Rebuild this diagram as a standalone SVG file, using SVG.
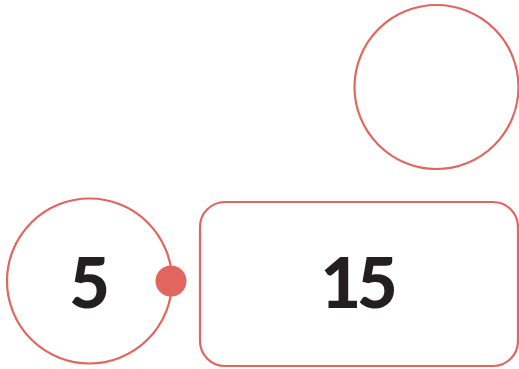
<svg xmlns="http://www.w3.org/2000/svg" width="519" height="369" viewBox="0 0 519 369">
<style>
.shape{fill:#fff;stroke:#e2665f;stroke-width:2.2}
.lbl{font-family:"Lato","Liberation Sans",sans-serif;font-weight:900;font-size:70px;fill:#231f20;text-anchor:middle}
</style>
<rect width="519" height="369" fill="#fff"/>
<g id="node-top">
<circle class="shape" cx="436.5" cy="87" r="82"/>
</g>
<g id="node-5">
<circle class="shape" cx="89.5" cy="281" r="82.5"/>
<text class="lbl" x="89.5" y="308">5</text>
</g>
<g id="node-15">
<rect class="shape" x="200" y="202" width="318" height="164" rx="25"/>
<text class="lbl" x="357" y="308" letter-spacing="-4">15</text>
</g>
<g id="connectors">
<circle cx="171" cy="281" r="15.5" fill="#e2665f"/>
</g>
</svg>
